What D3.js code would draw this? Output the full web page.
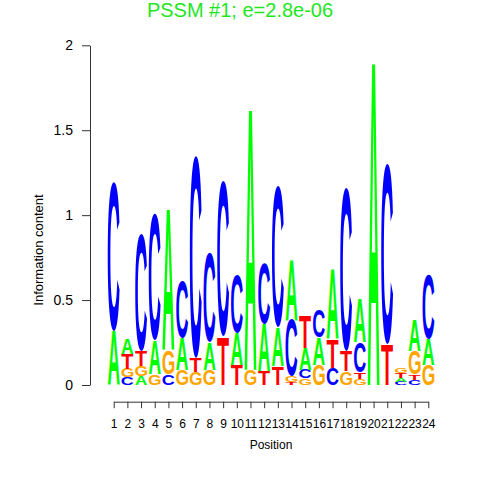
<!DOCTYPE html>
<html><head><meta charset="utf-8">
<script src="https://cdn.jsdelivr.net/npm/d3@7"></script>
<style>body{margin:0;background:#fff}</style>
</head><body>
<svg id="chart" width="480" height="480"></svg>
<script>
// ---- data ----
const positions = d3.range(1, 25);
const letters = ["A", "C", "G", "T"];
const heightA = [0.32, 0.092, 0.05, 0.20, 0.835, 0.19, 0.0, 0.16, 0.0, 0.19, 1.55, 0.28, 0.23, 0.36, 0.13, 0.16, 0.41, 0.0, 0.26, 1.92, 0.0, 0.022, 0.18, 0.15];
const heightC = [0.88, 0.045, 0.69, 0.745, 0.065, 0.33, 1.19, 0.53, 0.915, 0.34, 0.0, 0.36, 0.83, 0.33, 0.05, 0.165, 0.10, 0.96, 0.18, 0.0, 1.06, 0.02, 0.03, 0.38];
const heightG = [0.0, 0.05, 0.06, 0.065, 0.14, 0.09, 0.075, 0.09, 0.0, 0.0, 0.09, 0.0, 0.0, 0.04, 0.04, 0.12, 0.0, 0.08, 0.035, 0.0, 0.0, 0.03, 0.14, 0.12];
const heightT = [0.0, 0.088, 0.09, 0.0, 0.0, 0.0, 0.085, 0.0, 0.285, 0.12, 0.0, 0.08, 0.11, 0.015, 0.19, 0.0, 0.17, 0.12, 0.04, 0.0, 0.24, 0.028, 0.032, 0.0];
const yTicks = [0, 0.5, 1, 1.5, 2];
const titleText = "PSSM #1; e=2.8e-06";
const xLabel = "Position";
const yLabel = "Information content";
const letterColor = {A: "#00FF00", C: "#0000FF", G: "#FFA500", T: "#FF0000"};

// ---- layout ----
const svg = d3.select("#chart");
const x = d3.scaleLinear().domain([1, 24]).range([113.7, 428.3]);
const y = d3.scaleLinear().domain([0, 2]).range([385, 45.3]);
const step = x(2) - x(1);
const letterW = step * 0.87;
const FONT = "'Liberation Sans', Arial, Helvetica, sans-serif";

// title
svg.append("text").attr("x", 240).attr("y", 16.5).attr("text-anchor", "middle")
  .attr("font-family", FONT).attr("font-size", 20).attr("fill", "#1EE61E").text(titleText);

// y axis
const yAxis = svg.append("g").attr("transform", "translate(90,0)")
  .call(d3.axisLeft(y).tickValues(yTicks).tickSize(8).tickSizeOuter(0).tickPadding(9).tickFormat(d3.format("")));
yAxis.selectAll("text").attr("font-family", FONT).attr("font-size", 14).attr("fill", "#000");
yAxis.selectAll("path,line").attr("stroke", "#333");

// x axis
const xAxis = svg.append("g").attr("transform", "translate(0,401.7)")
  .call(d3.axisBottom(x).tickValues(positions).tickSize(6.5).tickSizeOuter(0).tickPadding(11.3).tickFormat(d3.format("d")));
xAxis.selectAll("text").attr("font-family", FONT).attr("font-size", 12).attr("fill", "#000");
xAxis.selectAll("path,line").attr("stroke", "#333");

// axis labels
svg.append("text").attr("x", (x(1) + x(24)) / 2).attr("y", 449).attr("text-anchor", "middle")
  .attr("font-family", FONT).attr("font-size", 12).attr("fill", "#000").text(xLabel);
svg.append("text").attr("transform", "translate(43,250) rotate(-90)").attr("text-anchor", "middle")
  .attr("font-family", FONT).attr("font-size", 13).attr("fill", "#000").text(yLabel);

// glyph metrics
const ctx = document.createElement("canvas").getContext("2d");
ctx.font = "bold 100px " + FONT;
const metrics = {};
letters.forEach(L => {
  const m = ctx.measureText(L);
  metrics[L] = {l: m.actualBoundingBoxLeft, r: m.actualBoundingBoxRight, a: m.actualBoundingBoxAscent, d: m.actualBoundingBoxDescent};
});

const heights = {A: heightA, C: heightC, G: heightG, T: heightT};
const logo = svg.append("g");
positions.forEach((p, i) => {
  const stack = letters.map(L => ({L, h: heights[L][i]})).filter(d => d.h > 0).sort((a, b) => a.h - b.h);
  let cum = 0;
  stack.forEach(d => {
    const y0 = y(cum), y1 = y(cum + d.h);
    cum += d.h;
    const m = metrics[d.L];
    const gw = m.l + m.r, gh = m.a + m.d;
    const bh = y0 - y1;
    const left = x(p) - letterW / 2;
    logo.append("text")
      .attr("transform", `translate(${left},${y1}) scale(${letterW / gw},${bh / gh}) translate(${m.l},${m.a})`)
      .attr("font-family", FONT).attr("font-weight", "bold").attr("font-size", 100)
      .attr("fill", letterColor[d.L]).text(d.L);
  });
});
</script>
</body></html>
